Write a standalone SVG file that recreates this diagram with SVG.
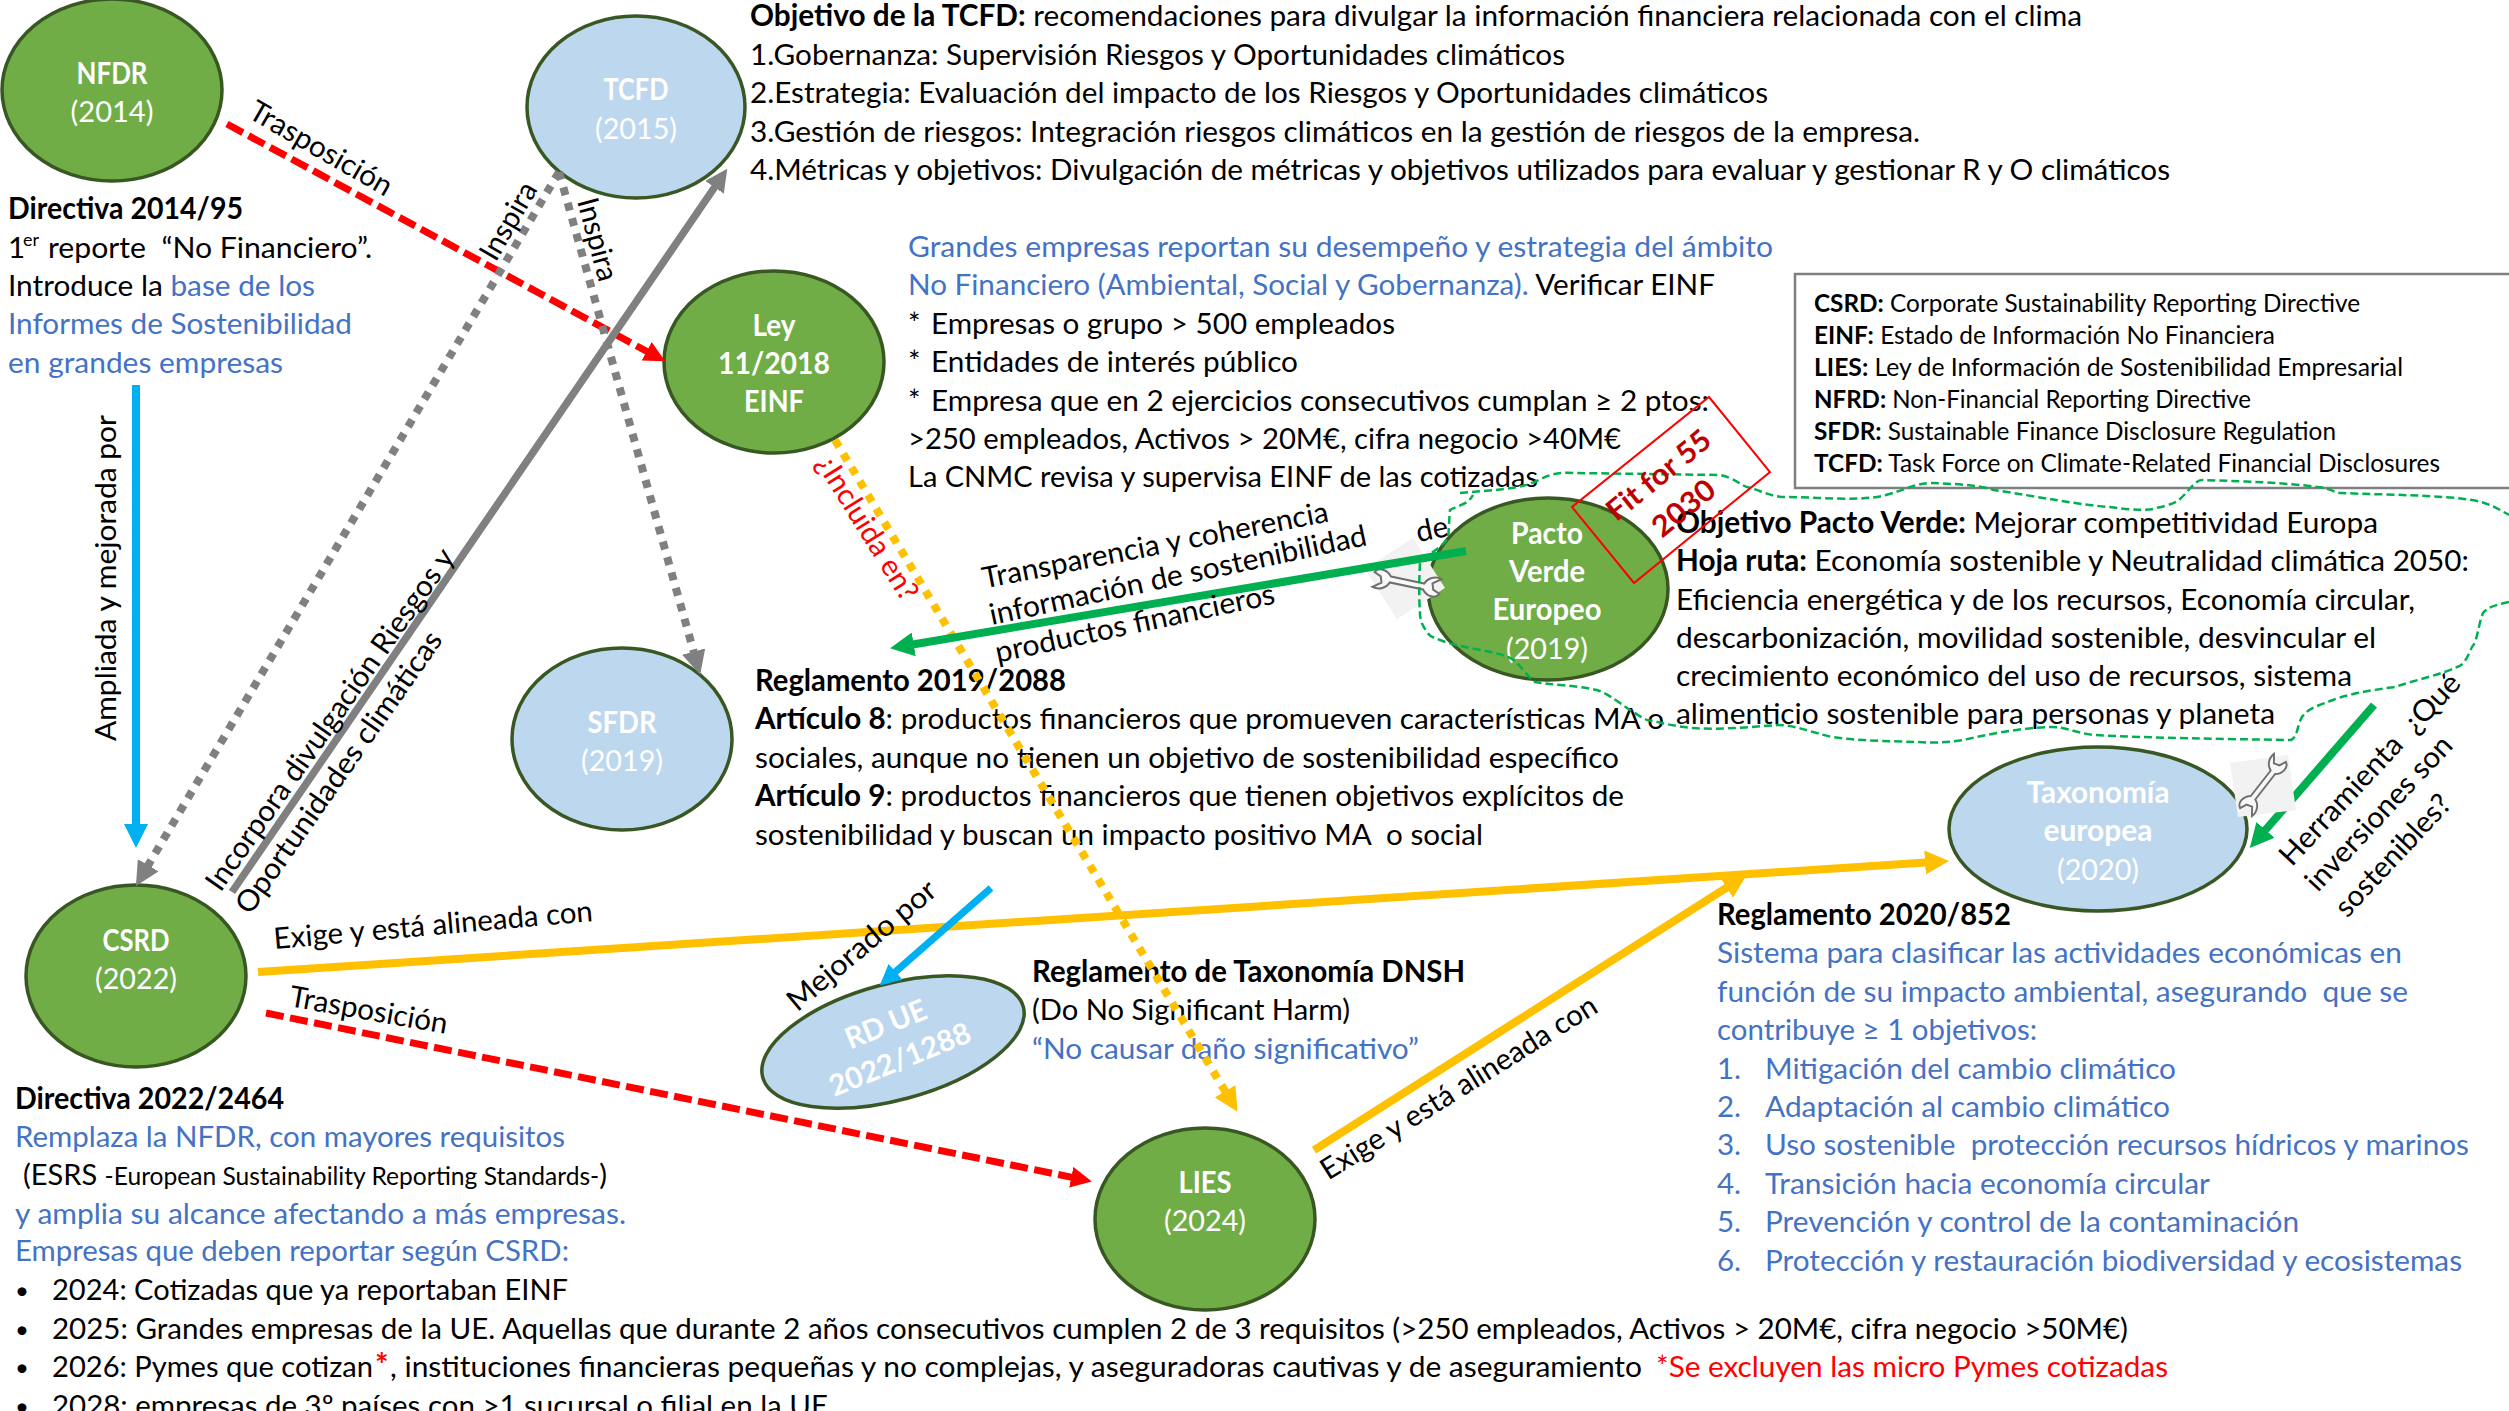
<svg xmlns="http://www.w3.org/2000/svg" width="2509" height="1411" viewBox="0 0 2509 1411">
<style>
text{font-family:"Lato","Carlito","Liberation Sans",sans-serif;font-size:29.5px;fill:#000;white-space:pre}
.b{font-weight:700}
.bl,.bl tspan{fill:#4472C4}
.r{fill:#FF0000}
.w{fill:#fff;text-anchor:middle}
.m{text-anchor:middle}
.lg{font-size:24.5px}
.n{stroke:#385723;stroke-width:3.5}
.g{fill:#70AD47}
.c{fill:#BDD7EE}
.dot{font-size:24px}
</style>
<defs>
<marker id="aR" viewBox="0 0 3 3" refX="2" refY="1.5" markerWidth="3" markerHeight="3" orient="auto"><path d="M0 0L3 1.5L0 3Z" fill="#FF0000"/></marker>
<marker id="aG" viewBox="0 0 3 3" refX="2" refY="1.5" markerWidth="3" markerHeight="3" orient="auto"><path d="M0 0L3 1.5L0 3Z" fill="#808080"/></marker>
<marker id="aB" viewBox="0 0 3 3" refX="2" refY="1.5" markerWidth="3" markerHeight="3" orient="auto"><path d="M0 0L3 1.5L0 3Z" fill="#00B0F0"/></marker>
<marker id="aY" viewBox="0 0 3 3" refX="2" refY="1.5" markerWidth="3" markerHeight="3" orient="auto"><path d="M0 0L3 1.5L0 3Z" fill="#FFC000"/></marker>
<marker id="aV" viewBox="0 0 3 3" refX="2" refY="1.5" markerWidth="3" markerHeight="3" orient="auto"><path d="M0 0L3 1.5L0 3Z" fill="#00B050"/></marker>
<path id="wr" d="M-17-3L17-3C19-9 26-13 33-11L25-5L27 1L34 4C31 10 22 9 17 3L-17 3C-19 9-26 13-33 11L-25 5L-27-1L-34-4C-31-10-22-9-17-3Z" fill="#f8f8f8" stroke="#6f6f6f" stroke-width="2"/>
</defs>

<g id="textos" transform="translate(0 1.5)">
<text x="750" y="24" textLength="1332" lengthAdjust="spacingAndGlyphs"><tspan class="b">Objetivo de la TCFD:</tspan> recomendaciones para divulgar la información financiera relacionada con el clima</text>
<text x="750" y="63" textLength="815" lengthAdjust="spacingAndGlyphs">1.Gobernanza: Supervisión Riesgos y Oportunidades climáticos</text>
<text x="750" y="101" textLength="1018" lengthAdjust="spacingAndGlyphs">2.Estrategia: Evaluación del impacto de los Riesgos y Oportunidades climáticos</text>
<text x="750" y="140" textLength="1170" lengthAdjust="spacingAndGlyphs">3.Gestión de riesgos: Integración riesgos climáticos en la gestión de riesgos de la empresa.</text>
<text x="750" y="178" textLength="1420" lengthAdjust="spacingAndGlyphs">4.Métricas y objetivos: Divulgación de métricas y objetivos utilizados para evaluar y gestionar R y O climáticos</text>

<text x="8" y="217" class="b" textLength="235" lengthAdjust="spacingAndGlyphs">Directiva 2014/95</text>
<text x="8" y="256">1</text><text x="23" y="244" style="font-size:18px">er</text><text x="48" y="256" textLength="324" lengthAdjust="spacingAndGlyphs">reporte  “No Financiero”.</text>
<text x="8" y="294" textLength="307" lengthAdjust="spacingAndGlyphs">Introduce la <tspan class="bl">base de los</tspan></text>
<text x="8" y="332" class="bl" textLength="344" lengthAdjust="spacingAndGlyphs">Informes de Sostenibilidad</text>
<text x="8" y="371" class="bl" textLength="275" lengthAdjust="spacingAndGlyphs">en grandes empresas</text>

<text x="908" y="255" class="bl" textLength="865" lengthAdjust="spacingAndGlyphs">Grandes empresas reportan su desempeño y estrategia del ámbito</text>
<text x="908" y="293" textLength="807" lengthAdjust="spacingAndGlyphs"><tspan class="bl">No Financiero (Ambiental, Social y Gobernanza).</tspan> Verificar EINF</text>
<text x="908" y="332">*</text><text x="931" y="332" textLength="464" lengthAdjust="spacingAndGlyphs">Empresas o grupo &gt; 500 empleados</text>
<text x="908" y="370">*</text><text x="931" y="370" textLength="367" lengthAdjust="spacingAndGlyphs">Entidades de interés público</text>
<text x="908" y="409">*</text><text x="931" y="409" textLength="778" lengthAdjust="spacingAndGlyphs">Empresa que en 2 ejercicios consecutivos cumplan ≥ 2 ptos:</text>
<text x="908" y="447" textLength="713" lengthAdjust="spacingAndGlyphs">&gt;250 empleados, Activos &gt; 20M€, cifra negocio &gt;40M€</text>
<text x="908" y="485" textLength="630" lengthAdjust="spacingAndGlyphs">La CNMC revisa y supervisa EINF de las cotizadas</text>

<text x="755" y="689" class="b" textLength="311" lengthAdjust="spacingAndGlyphs">Reglamento 2019/2088</text>
<text x="755" y="727" textLength="909" lengthAdjust="spacingAndGlyphs"><tspan class="b">Artículo 8</tspan>: productos financieros que promueven características MA o</text>
<text x="755" y="766" textLength="864" lengthAdjust="spacingAndGlyphs">sociales, aunque no tienen un objetivo de sostenibilidad específico</text>
<text x="755" y="804" textLength="869" lengthAdjust="spacingAndGlyphs"><tspan class="b">Artículo 9</tspan>: productos financieros que tienen objetivos explícitos de</text>
<text x="755" y="843" textLength="728" lengthAdjust="spacingAndGlyphs">sostenibilidad y buscan un impacto positivo MA  o social</text>

<text x="1676" y="531" textLength="702" lengthAdjust="spacingAndGlyphs"><tspan class="b">Objetivo Pacto Verde:</tspan> Mejorar competitividad Europa</text>
<text x="1676" y="569" textLength="793" lengthAdjust="spacingAndGlyphs"><tspan class="b">Hoja ruta:</tspan> Economía sostenible y Neutralidad climática 2050:</text>
<text x="1676" y="608" textLength="739" lengthAdjust="spacingAndGlyphs">Eficiencia energética y de los recursos, Economía circular,</text>
<text x="1676" y="646" textLength="700" lengthAdjust="spacingAndGlyphs">descarbonización, movilidad sostenible, desvincular el</text>
<text x="1676" y="684" textLength="676" lengthAdjust="spacingAndGlyphs">crecimiento económico del uso de recursos, sistema</text>
<text x="1676" y="722" textLength="599" lengthAdjust="spacingAndGlyphs">alimenticio sostenible para personas y planeta</text>

<text x="15" y="1107" class="b" textLength="269" lengthAdjust="spacingAndGlyphs">Directiva 2022/2464</text>
<text x="15" y="1145" class="bl" textLength="550" lengthAdjust="spacingAndGlyphs">Remplaza la NFDR, con mayores requisitos</text>
<text x="23" y="1183" textLength="584" lengthAdjust="spacingAndGlyphs">(ESRS <tspan style="font-size:25px">-European Sustainability Reporting Standards-</tspan>)</text>
<text x="15" y="1222" class="bl" textLength="611" lengthAdjust="spacingAndGlyphs">y amplia su alcance afectando a más empresas.</text>
<text x="15" y="1259" class="bl" textLength="554" lengthAdjust="spacingAndGlyphs">Empresas que deben reportar según CSRD:</text>
<text class="dot" x="15" y="1297">•</text><text x="52" y="1298" textLength="516" lengthAdjust="spacingAndGlyphs">2024: Cotizadas que ya reportaban EINF</text>
<text class="dot" x="15" y="1336">•</text><text x="52" y="1337" textLength="2076" lengthAdjust="spacingAndGlyphs">2025: Grandes empresas de la UE. Aquellas que durante 2 años consecutivos cumplen 2 de 3 requisitos (&gt;250 empleados, Activos &gt; 20M€, cifra negocio &gt;50M€)</text>
<text class="dot" x="15" y="1374">•</text><text x="52" y="1375" textLength="321" lengthAdjust="spacingAndGlyphs">2026: Pymes que cotizan</text><text class="b r" x="375" y="1375" style="font-size:32px">*</text><text x="390" y="1375" textLength="1252" lengthAdjust="spacingAndGlyphs">, instituciones financieras pequeñas y no complejas, y aseguradoras cautivas y de aseguramiento</text><text class="r" x="1656" y="1375" textLength="512" lengthAdjust="spacingAndGlyphs">*Se excluyen las micro Pymes cotizadas</text>
<text class="dot" x="15" y="1413">•</text><text x="52" y="1414" textLength="776" lengthAdjust="spacingAndGlyphs">2028: empresas de 3º países con &gt;1 sucursal o filial en la UE</text>

<text x="1032" y="980" class="b" textLength="433" lengthAdjust="spacingAndGlyphs">Reglamento de Taxonomía DNSH</text>
<text x="1032" y="1018" textLength="318" lengthAdjust="spacingAndGlyphs">(Do No Significant Harm)</text>
<text x="1032" y="1057" class="bl" textLength="387" lengthAdjust="spacingAndGlyphs">“No causar daño significativo”</text>

<text x="1717" y="923" class="b" textLength="294" lengthAdjust="spacingAndGlyphs">Reglamento 2020/852</text>
<text x="1717" y="961" class="bl" textLength="685" lengthAdjust="spacingAndGlyphs">Sistema para clasificar las actividades económicas en</text>
<text x="1717" y="1000" class="bl" textLength="691" lengthAdjust="spacingAndGlyphs">función de su impacto ambiental, asegurando  que se</text>
<text x="1717" y="1038" class="bl" textLength="320" lengthAdjust="spacingAndGlyphs">contribuye ≥ 1 objetivos:</text>
<text class="bl" x="1717" y="1077">1.</text><text class="bl" x="1765" y="1077" textLength="411" lengthAdjust="spacingAndGlyphs">Mitigación del cambio climático</text>
<text class="bl" x="1717" y="1115">2.</text><text class="bl" x="1765" y="1115" textLength="405" lengthAdjust="spacingAndGlyphs">Adaptación al cambio climático</text>
<text class="bl" x="1717" y="1153">3.</text><text class="bl" x="1765" y="1153" textLength="704" lengthAdjust="spacingAndGlyphs">Uso sostenible  protección recursos hídricos y marinos</text>
<text class="bl" x="1717" y="1192">4.</text><text class="bl" x="1765" y="1192" textLength="445" lengthAdjust="spacingAndGlyphs">Transición hacia economía circular</text>
<text class="bl" x="1717" y="1230">5.</text><text class="bl" x="1765" y="1230" textLength="534" lengthAdjust="spacingAndGlyphs">Prevención y control de la contaminación</text>
<text class="bl" x="1717" y="1269">6.</text><text class="bl" x="1765" y="1269" textLength="697" lengthAdjust="spacingAndGlyphs">Protección y restauración biodiversidad y ecosistemas</text>
</g>

<g id="leyenda">
<rect x="1795" y="274" width="716" height="214" fill="#fff" stroke="#7f7f7f" stroke-width="2.5"/>
<text class="lg" x="1814" y="312" textLength="546" lengthAdjust="spacingAndGlyphs"><tspan class="b">CSRD:</tspan> Corporate Sustainability Reporting Directive</text>
<text class="lg" x="1814" y="344" textLength="461" lengthAdjust="spacingAndGlyphs"><tspan class="b">EINF:</tspan> Estado de Información No Financiera</text>
<text class="lg" x="1814" y="376" textLength="589" lengthAdjust="spacingAndGlyphs"><tspan class="b">LIES:</tspan> Ley de Información de Sostenibilidad Empresarial</text>
<text class="lg" x="1814" y="408" textLength="437" lengthAdjust="spacingAndGlyphs"><tspan class="b">NFRD:</tspan> Non-Financial Reporting Directive</text>
<text class="lg" x="1814" y="440" textLength="522" lengthAdjust="spacingAndGlyphs"><tspan class="b">SFDR:</tspan> Sustainable Finance Disclosure Regulation</text>
<text class="lg" x="1814" y="472" textLength="626" lengthAdjust="spacingAndGlyphs"><tspan class="b">TCFD:</tspan> Task Force on Climate-Related Financial Disclosures</text>
</g>

<g id="node-nfdr"><ellipse class="n g" cx="112" cy="90" rx="110" ry="91"/><text class="w b" x="112" y="83.5" textLength="71" lengthAdjust="spacingAndGlyphs">NFDR</text><text class="w" x="112" y="121.5" textLength="83" lengthAdjust="spacingAndGlyphs">(2014)</text></g>
<g id="node-tcfd"><ellipse class="n c" cx="636" cy="107" rx="109" ry="91"/><text class="w b" x="636" y="99.5" textLength="65" lengthAdjust="spacingAndGlyphs">TCFD</text><text class="w" x="636" y="138.5" textLength="82" lengthAdjust="spacingAndGlyphs">(2015)</text></g>
<g id="node-ley"><ellipse class="n g" cx="774" cy="362" rx="110" ry="91"/><text class="w b" x="774" y="335.5" textLength="43" lengthAdjust="spacingAndGlyphs">Ley</text><text class="w b" x="774" y="373.5" textLength="112" lengthAdjust="spacingAndGlyphs">11/2018</text><text class="w b" x="774" y="411.5" textLength="60" lengthAdjust="spacingAndGlyphs">EINF</text></g>
<g id="node-pacto"><ellipse class="n g" cx="1548" cy="589" rx="120" ry="91"/><text class="w b" x="1547" y="543.5" textLength="72" lengthAdjust="spacingAndGlyphs">Pacto</text><text class="w b" x="1547" y="581.5" textLength="76" lengthAdjust="spacingAndGlyphs">Verde</text><text class="w b" x="1547" y="619.5" textLength="109" lengthAdjust="spacingAndGlyphs">Europeo</text><text class="w" x="1547" y="658.5" textLength="82" lengthAdjust="spacingAndGlyphs">(2019)</text></g>
<g id="node-sfdr"><ellipse class="n c" cx="622" cy="739" rx="110" ry="91"/><text class="w b" x="622" y="732.5" textLength="69" lengthAdjust="spacingAndGlyphs">SFDR</text><text class="w" x="622" y="770.5" textLength="82" lengthAdjust="spacingAndGlyphs">(2019)</text></g>
<g id="node-csrd"><ellipse class="n g" cx="136" cy="976" rx="110" ry="91"/><text class="w b" x="136" y="950.5" textLength="67" lengthAdjust="spacingAndGlyphs">CSRD</text><text class="w" x="136" y="988.5" textLength="82" lengthAdjust="spacingAndGlyphs">(2022)</text></g>
<g id="node-lies"><ellipse class="n g" cx="1205" cy="1219" rx="110" ry="91"/><text class="w b" x="1205" y="1193" textLength="53" lengthAdjust="spacingAndGlyphs">LIES</text><text class="w" x="1205" y="1231" textLength="82" lengthAdjust="spacingAndGlyphs">(2024)</text></g>
<g id="node-taxonomia"><ellipse class="n c" cx="2098" cy="829" rx="149" ry="82"/><text class="w b" x="2098" y="802.5" textLength="143" lengthAdjust="spacingAndGlyphs">Taxonomía</text><text class="w b" x="2098" y="840.5" textLength="109" lengthAdjust="spacingAndGlyphs">europea</text><text class="w" x="2098" y="879.5" textLength="82" lengthAdjust="spacingAndGlyphs">(2020)</text></g>
<g id="node-rdue"><ellipse class="n c" cx="893" cy="1042" rx="135" ry="58" transform="rotate(-15.2 893 1042)"/><g transform="translate(893 1042) rotate(-22)"><text class="w b" x="0" y="-9" textLength="85" lengthAdjust="spacingAndGlyphs">RD UE</text><text class="w b" x="0" y="29" textLength="150" lengthAdjust="spacingAndGlyphs">2022/1288</text></g></g>

<g id="icono-pacto">
<polygon points="1413,538 1445,588 1397,619 1365,569" fill="#f2f2f2"/>
<use href="#wr" transform="translate(1407 583) rotate(12)"/>
</g>

<g id="connectors" fill="none">
<path d="M227 124L659 358" stroke="#FF0000" stroke-width="7" stroke-dasharray="18 6.5" marker-end="url(#aR)"/>
<path d="M559 172L140 879" stroke="#808080" stroke-width="8" stroke-dasharray="8 8" marker-end="url(#aG)"/>
<path d="M559 172L698 667" stroke="#808080" stroke-width="8" stroke-dasharray="8 8" marker-end="url(#aG)"/>
<path d="M232 892L723 175" stroke="#808080" stroke-width="7.5" marker-end="url(#aG)"/>
<path d="M136 385L136 840" stroke="#00B0F0" stroke-width="8" marker-end="url(#aB)"/>
<path d="M258 972L1941 861.5" stroke="#FFC000" stroke-width="8" marker-end="url(#aY)"/>
<path d="M1314 1150L1740 879" stroke="#FFC000" stroke-width="8" marker-end="url(#aY)"/>
<path d="M835 440L1233.4 1105" stroke="#FFC000" stroke-width="8" stroke-dasharray="8 8" marker-end="url(#aY)"/>
<path d="M266 1013L1085 1180" stroke="#FF0000" stroke-width="7" stroke-dasharray="18 6.5" marker-end="url(#aR)"/>
<path d="M991 888L885 981" stroke="#00B0F0" stroke-width="7" marker-end="url(#aB)"/>
<path d="M1466 551L898 647" stroke="#00B050" stroke-width="8" marker-end="url(#aV)"/>
<path d="M2374 705L2255 842" stroke="#00B050" stroke-width="8" marker-end="url(#aV)"/>
</g>

<g id="etiquetas">
<text class="m" transform="translate(316 157) rotate(30)" textLength="160" lengthAdjust="spacingAndGlyphs">Trasposición</text>
<text class="m" transform="translate(517 226) rotate(-60)" textLength="85" lengthAdjust="spacingAndGlyphs">Inspira</text>
<text class="m" transform="translate(588 242) rotate(75)" textLength="85" lengthAdjust="spacingAndGlyphs">Inspira</text>
<text class="m" transform="translate(338 725) rotate(-55)" textLength="410" lengthAdjust="spacingAndGlyphs">Incorpora divulgación Riesgos y</text>
<text class="m" transform="translate(347 778) rotate(-55)" textLength="337" lengthAdjust="spacingAndGlyphs">Oportunidades climáticas</text>
<text class="m" transform="translate(116 578) rotate(-90)" textLength="326" lengthAdjust="spacingAndGlyphs">Ampliada y mejorada por</text>
<text class="m" transform="translate(434 935) rotate(-5)" textLength="320" lengthAdjust="spacingAndGlyphs">Exige y está alineada con</text>
<text class="m" transform="translate(367 1020) rotate(10)" textLength="160" lengthAdjust="spacingAndGlyphs">Trasposición</text>
<text class="m" transform="translate(868 953) rotate(-40)" textLength="185" lengthAdjust="spacingAndGlyphs">Mejorado por</text>
<text class="m" transform="translate(1464 1096) rotate(-32)" textLength="320" lengthAdjust="spacingAndGlyphs">Exige y está alineada con</text>
<text class="m r" transform="translate(859 533) rotate(58)" textLength="165" lengthAdjust="spacingAndGlyphs">¿Incluida en?</text>
<text class="m" transform="translate(1157 555) rotate(-11)" textLength="352" lengthAdjust="spacingAndGlyphs">Transparencia y coherencia</text>
<text class="m" transform="translate(1180 585) rotate(-12)" textLength="385" lengthAdjust="spacingAndGlyphs">información de sostenibilidad</text>
<text class="m" transform="translate(1137 633) rotate(-12)" textLength="285" lengthAdjust="spacingAndGlyphs">productos financieros</text>
<text class="m" transform="translate(1434 539) rotate(-12)" textLength="32" lengthAdjust="spacingAndGlyphs">de</text>
<text class="m" transform="translate(2377 776) rotate(-47)" textLength="250" lengthAdjust="spacingAndGlyphs">Herramienta  ¿Qué</text>
<text class="m" transform="translate(2386 820) rotate(-47)" textLength="200" lengthAdjust="spacingAndGlyphs">inversiones son</text>
<text class="m" transform="translate(2400 862) rotate(-47)" textLength="155" lengthAdjust="spacingAndGlyphs">sostenibles?</text>
</g>

<g id="icono-taxonomia">
<polygon points="2230,763 2288,755 2296,810 2238,817" fill="#f2f2f2"/>
<use href="#wr" transform="translate(2263 785) rotate(-52) scale(0.95)"/>
</g>

<path id="nube" fill="none" stroke="#00B050" stroke-width="2.5" stroke-dasharray="8 4" d="M1460 493C1490 490 1520 490 1539 480C1550 474 1560 472 1574 473L1720 475C1735 478 1740 485 1747 487C1760 490 1770 497 1786 497C1820 497 1860 502 1886 495C1905 490 1915 483 1932 483C1950 484 1975 484 1994 490C2040 497 2080 505 2110 507C2130 510 2150 511 2156 508C2170 505 2175 503 2179 500C2190 490 2195 480 2202 480C2240 481 2290 483 2318 487C2330 488 2335 493 2341 493C2390 495 2440 495 2472 500C2490 503 2500 510 2509 515M2509 602C2495 605 2488 607 2483 613C2478 625 2478 640 2472 647C2468 655 2465 665 2457 667C2440 675 2415 680 2395 687C2370 690 2345 695 2333 700C2320 705 2308 708 2302 717C2297 725 2298 737 2291 740C2220 739 2150 738 2094 735C2075 733 2065 726 2048 727C2020 728 1985 735 1963 740C1945 743 1930 743 1917 742C1890 741 1860 741 1832 737C1810 732 1795 725 1778 725C1750 727 1720 730 1693 728C1670 726 1660 722 1647 720C1630 712 1612 695 1597 690C1575 685 1550 685 1535 682C1525 675 1520 662 1508 657C1490 650 1460 648 1440 640C1432 637 1429 636 1427 632C1422 625 1420 620 1420 613C1419 600 1419 580 1420 563C1425 555 1440 550 1448 538C1449 530 1449 520 1450 510C1458 505 1468 505 1473 495"/>

<g id="fit-for-55">
<polygon points="1709,397 1770,472 1634,583 1572,507" fill="none" stroke="#FF0000" stroke-width="2"/>
<text class="m b" transform="translate(1665 483) rotate(-39)" textLength="125" lengthAdjust="spacingAndGlyphs" style="fill:#C00000">Fit for 55</text>
<text class="m b" transform="translate(1690 516) rotate(-39)" textLength="72" lengthAdjust="spacingAndGlyphs" style="fill:#C00000">2030</text>
</g>
</svg>
